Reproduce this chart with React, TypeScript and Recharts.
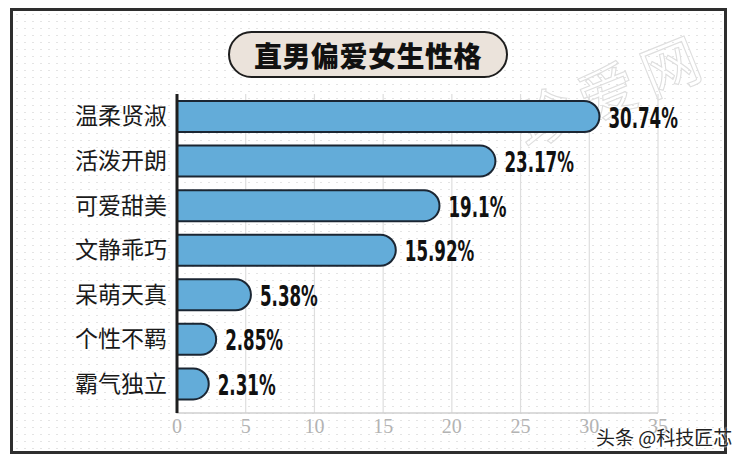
import React from 'react';
import { BarChart, Bar, XAxis, YAxis, CartesianGrid, LabelList } from 'recharts';

const traits = ['温柔贤淑', '活泼开朗', '可爱甜美', '文静乖巧', '呆萌天真', '个性不羁', '霸气独立'];
const shares = [30.74, 23.17, 19.1, 15.92, 5.38, 2.85, 2.31];
const xTicks = [0, 5, 10, 15, 20, 25, 30, 35];

const chartData = traits.map((name, i) => ({ name, value: shares[i] }));

// condensed bold label after the rounded bar end
const ValueLabel = (props: any) => {
  const { x, y, width, height, value } = props;
  const tx = x + width + 9;
  const ty = y + height / 2 + 11;
  return (
    <text
      transform={`translate(${tx},${ty}) scale(0.64,1)`}
      fontSize={29}
      fontWeight="bold"
      fontFamily="'DejaVu Sans Condensed', 'Liberation Sans Narrow', sans-serif"
      fill="#111"
    >
      {value}%
    </text>
  );
};

export default function App() {
  return (
    <div
      style={{
        position: 'absolute',
        left: 0,
        top: 0,
        width: 743,
        height: 461,
        background: '#fff',
        overflow: 'hidden',
      }}
    >
      <div
        style={{
          position: 'absolute',
          left: 10,
          top: 8,
          width: 711,
          height: 440,
          border: '3px solid #2e2e2e',
          backgroundColor: '#fff',
          backgroundImage: 'radial-gradient(#e4e4e4 0.9px, transparent 1.1px)',
          backgroundSize: '8px 7px',
        }}
      />
      <svg
        width={743}
        height={461}
        style={{ position: 'absolute', left: 0, top: 0 }}
      >
        <text
          x={612}
          y={112}
          transform="rotate(-22 612 90)"
          textAnchor="middle"
          fontSize={58}
          fontFamily="'Noto Sans CJK SC', sans-serif"
          fill="none"
          stroke="#dedede"
          strokeWidth={1.1}
          letterSpacing={10}
        >
          珍爱网
        </text>
      </svg>
      <div
        style={{
          position: 'absolute',
          left: 228,
          top: 31,
          width: 276,
          height: 43,
          border: '2px solid #1e1e1e',
          borderRadius: 24,
          background: '#ebe3db',
          display: 'flex',
          alignItems: 'center',
          justifyContent: 'center',
          fontFamily: "'Noto Sans CJK SC', sans-serif",
          fontWeight: 900,
          fontSize: 28,
          letterSpacing: 0.5,
          color: '#111',
        }}
      >
        直男偏爱女生性格
      </div>
      <div style={{ position: 'absolute', left: 0, top: 0 }}>
        <BarChart
          width={743}
          height={461}
          data={chartData}
          layout="vertical"
          margin={{ top: 94, right: 85, bottom: 18, left: 10 }}
        >
          <CartesianGrid horizontal={false} stroke="#dedede" strokeWidth={1.2} />
          <XAxis
            type="number"
            domain={[0, 35]}
            ticks={xTicks}
            interval={0}
            height={30}
            axisLine={{ stroke: '#cfcfcf', strokeWidth: 1.5 }}
            tickLine={false}
            tickSize={0}
            tickMargin={6}
            tick={{ fontSize: 20, fill: '#b3b3b3', fontFamily: "'Liberation Serif', serif" }}
          />
          <YAxis
            type="category"
            dataKey="name"
            width={167}
            padding={{ top: 0, bottom: 7 }}
            axisLine={{ stroke: '#1e1e1e', strokeWidth: 3 }}
            tickLine={false}
            tickSize={0}
            tickMargin={10}
            tick={{ fontSize: 23, fill: '#1a1a1a', fontFamily: "'Noto Sans CJK SC', sans-serif" }}
          />
          <Bar
            dataKey="value"
            barSize={31}
            fill="#63acd9"
            stroke="#1b2633"
            strokeWidth={2}
            radius={[0, 16, 16, 0]}
            isAnimationActive={false}
          >
            <LabelList dataKey="value" content={ValueLabel} />
          </Bar>
        </BarChart>
      </div>
      <div
        style={{
          position: 'absolute',
          left: 596,
          top: 423,
          fontSize: 19,
          fontFamily: "'Noto Sans CJK SC', sans-serif",
          color: '#222',
          whiteSpace: 'nowrap',
          textShadow: '0 0 2px #fff, 0 0 2px #fff',
        }}
      >
        头条 @科技匠芯
      </div>
    </div>
  );
}
